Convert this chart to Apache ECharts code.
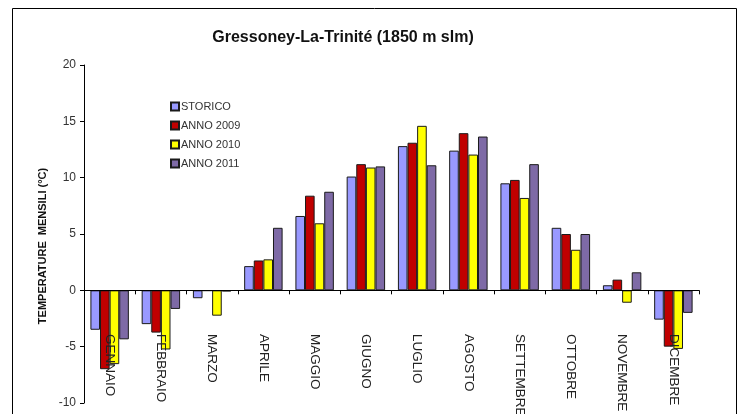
<!DOCTYPE html>
<html>
<head>
<meta charset="utf-8">
<script src="https://cdn.jsdelivr.net/npm/echarts@6/dist/echarts.min.js"></script>
<style>
html,body{margin:0;padding:0;background:#fff;}
#chart{width:742px;height:414px;}
</style>
</head>
<body>
<div id="chart"></div>
<script>
const months = ['GENNAIO','FEBBRAIO','MARZO','APRILE','MAGGIO','GIUGNO','LUGLIO','AGOSTO','SETTEMBRE','OTTOBRE','NOVEMBRE','DICEMBRE'];
const storico = [-3.5, -3.0, -0.7, 2.15, 6.6, 10.1, 12.8, 12.4, 9.5, 5.55, 0.45, -2.6];
const anno2009 = [-7.0, -3.75, -0.05, 2.65, 8.4, 11.2, 13.1, 13.95, 9.8, 5.0, 0.95, -5.0];
const anno2010 = [-6.55, -5.25, -2.25, 2.75, 5.95, 10.9, 14.6, 12.05, 8.2, 3.6, -1.1, -5.2];
const anno2011 = [-4.35, -1.65, -0.1, 5.55, 8.75, 11.0, 11.1, 13.65, 11.2, 5.0, 1.6, -2.0];
const seriesNames = ['STORICO','ANNO 2009','ANNO 2010','ANNO 2011'];
const seriesColors = ['#9999FF','#C00000','#FFFF00','#7E6AA6'];
const yTicks = {min: -10, max: 20, interval: 5};

const chart = echarts.init(document.getElementById('chart'), null, {renderer: 'canvas'});
const dataSets = [storico, anno2009, anno2010, anno2011];
const font = 'Liberation Sans, Arial, sans-serif';

chart.setOption({
  animation: false,
  backgroundColor: '#fff',
  title: {
    text: 'Gressoney-La-Trinité (1850 m slm)',
    left: 338, top: 25, textAlign: 'center',
    textStyle: {fontFamily: font, fontSize: 16, fontWeight: 'bold', color: '#111'}
  },
  legend: {
    orient: 'vertical', left: 165, top: 96,
    itemWidth: 8, itemHeight: 8, itemGap: 8,
    icon: 'rect',
    textStyle: {fontFamily: font, fontSize: 11, color: '#333', padding: [0,0,0,-3]},
    data: seriesNames
  },
  grid: {left: 84, right: 43, top: 65, bottom: 11, containLabel: false, outerBoundsMode: 'none'},
  xAxis: {
    type: 'category', data: months, z: 5,
    axisLine: {onZero: true, lineStyle: {color: '#000', width: 1}},
    axisTick: {show: true, length: 4, lineStyle: {color: '#000'}},
    axisLabel: {interval: 0, rotate: -90, margin: -69, fontFamily: font, fontSize: 13.5, color: '#222'}
  },
  yAxis: {
    type: 'value', min: yTicks.min, max: yTicks.max, interval: yTicks.interval,
    axisLine: {show: true, lineStyle: {color: '#000', width: 1}},
    axisTick: {show: true, length: 4, lineStyle: {color: '#000'}},
    splitLine: {show: false},
    axisLabel: {margin: 8, fontFamily: font, fontSize: 12, color: '#333'}
  },
  graphic: [
    {type: 'rect', shape: {x: 12.5, y: 8.5, width: 724, height: 430}, style: {fill: 'none', stroke: '#000', lineWidth: 1}, silent: true, z: -1},
    {type: 'text', x: 43, y: 246, rotation: Math.PI / 2,
     style: {text: 'TEMPERATURE  MENSILI (°C)', fontFamily: font, fontSize: 11, fontWeight: 'bold', fill: '#111', align: 'center', verticalAlign: 'middle'}}
  ],
  series: seriesNames.map((n, i) => ({
    name: n, type: 'bar', data: dataSets[i],
    barGap: '0%', barCategoryGap: '25%',
    itemStyle: {color: seriesColors[i], borderColor: '#1a1a1a', borderWidth: 1}
  }))
});
</script>
</body>
</html>
